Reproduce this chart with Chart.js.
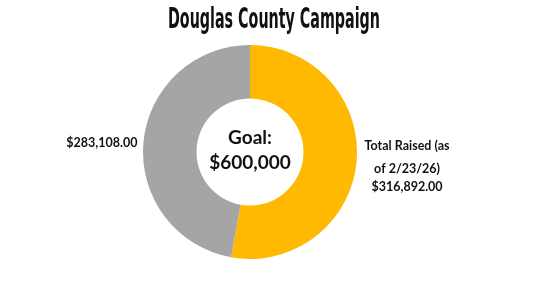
<!DOCTYPE html>
<html>
<head>
<meta charset="utf-8">
<script src="https://cdn.jsdelivr.net/npm/chart.js@4.4.1/dist/chart.umd.min.js"></script>
<style>
html,body{margin:0;padding:0;background:#fff;}
#wrap{width:550px;height:300px;}
</style>
</head>
<body>
<div id="wrap"><canvas id="c" width="550" height="300"></canvas></div>
<script>
const titleText = "Douglas County Campaign";
const categories = [["Total Raised (as", "of 2/23/26)"], []];
const values = [316892.00, 283108.00];
const colors = ["#FFB900", "#A5A5A5"];
const centerLines = ["Goal:", "$600,000"];

function fmt(v){ return "$" + v.toLocaleString("en-US",{minimumFractionDigits:2, maximumFractionDigits:2}); }

const labelPlugin = {
  id: "labels",
  afterDraw(chart){
    const ctx = chart.ctx;
    ctx.save();
    // title, condensed
    ctx.font = "bold 28px 'DejaVu Sans Condensed', 'Liberation Sans Narrow', sans-serif";
    ctx.fillStyle = "#111";
    ctx.textBaseline = "middle";
    ctx.textAlign = "center";
    const tw = ctx.measureText(titleText).width;
    const targetW = 212;
    ctx.save();
    ctx.translate(274, 21);
    ctx.scale(targetW / tw, 1);
    ctx.fillText(titleText, 0, 0);
    ctx.restore();

    const meta = chart.getDatasetMeta(0);
    const arc0 = meta.data[0];
    const cx = arc0.x, cy = arc0.y;
    // center text
    ctx.fillStyle = "#111";
    ctx.font = "bold 19px Lato, 'Open Sans', sans-serif";
    ctx.fillText(centerLines[0], cx, cy - 14);
    ctx.fillText(centerLines[1], cx, cy + 11);

    ctx.font = "bold 12.5px Lato, 'Open Sans', sans-serif";
    meta.data.forEach((arc, i) => {
      const mid = (arc.startAngle + arc.endAngle) / 2;
      const r = arc.outerRadius;
      const ax = cx + (r + 8) * Math.cos(mid);
      const ay = cy + r * Math.sin(mid);
      const lines = categories[i].slice();
      lines.push(fmt(values[i]));
      if (Math.cos(mid) >= 0) {
        ctx.textAlign = "center";
        const w = Math.max(...lines.map(l => ctx.measureText(l).width));
        const x = ax + w / 2;
        const ys = [ay - 15, ay + 8, ay + 26];
        lines.forEach((l, k) => ctx.fillText(l, x, ys[k]));
      } else {
        ctx.textAlign = "right";
        lines.forEach((l, k) => ctx.fillText(l, ax + 2, ay + k * 18));
      }
    });
    ctx.restore();
  }
};

new Chart(document.getElementById("c"), {
  type: "doughnut",
  data: {
    labels: categories.map((c, i) => c.join(" ") || "Remaining"),
    datasets: [{
      data: values,
      backgroundColor: colors,
      borderWidth: 0,
      hoverOffset: 0
    }]
  },
  options: {
    responsive: false,
    animation: false,
    cutout: "50%",
    layout: { padding: { left: 143, right: 193, top: 45, bottom: 41 } },
    plugins: { legend: { display: false }, tooltip: { enabled: false }, title: { display: false } }
  },
  plugins: [labelPlugin]
});
</script>
</body>
</html>
